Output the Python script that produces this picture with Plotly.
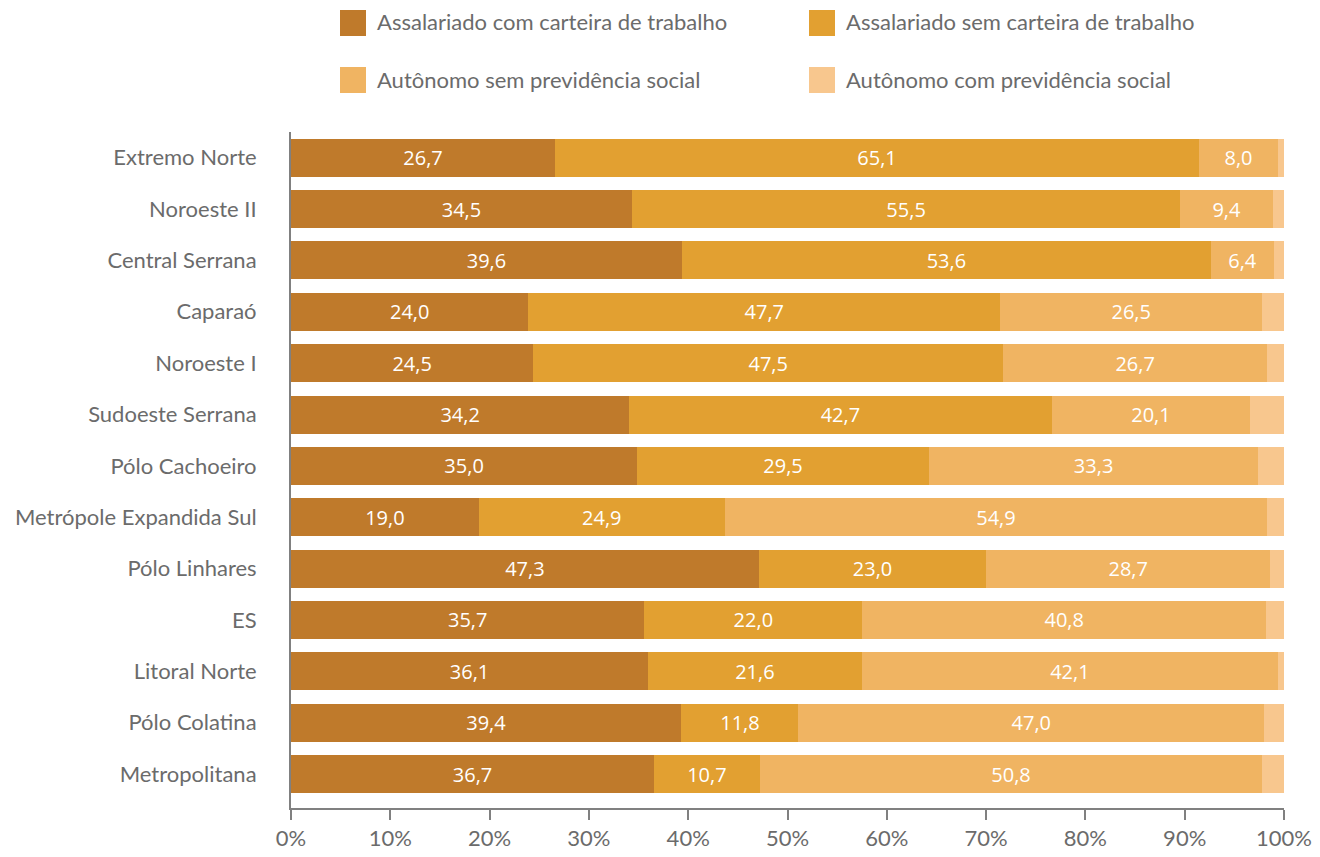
import plotly.graph_objects as go

# Regions of Espírito Santo (top to bottom)
categories = [
    "Extremo Norte", "Noroeste II", "Central Serrana", "Caparaó", "Noroeste I",
    "Sudoeste Serrana", "Pólo Cachoeiro", "Metrópole Expandida Sul",
    "Pólo Linhares", "ES", "Litoral Norte", "Pólo Colatina", "Metropolitana",
]

# Share of occupied persons by type of occupation (%)
com_carteira = [26.7, 34.5, 39.6, 24.0, 24.5, 34.2, 35.0, 19.0, 47.3, 35.7, 36.1, 39.4, 36.7]
sem_carteira = [65.1, 55.5, 53.6, 47.7, 47.5, 42.7, 29.5, 24.9, 23.0, 22.0, 21.6, 11.8, 10.7]
aut_sem_prev = [8.0, 9.4, 6.4, 26.5, 26.7, 20.1, 33.3, 54.9, 28.7, 40.8, 42.1, 47.0, 50.8]
aut_com_prev = [0.6, 1.1, 1.0, 2.2, 1.7, 3.4, 2.6, 1.7, 1.4, 1.8, 0.6, 2.0, 2.2]

series_names = [
    "Assalariado com carteira de trabalho",
    "Assalariado sem carteira de trabalho",
    "Autônomo sem previdência social",
    "Autônomo com previdência social",
]
series_values = [com_carteira, sem_carteira, aut_sem_prev, aut_com_prev]
series_labeled = [True, True, True, False]
colors = ["#BF7A2B", "#E2A031", "#F0B462", "#F8C78E"]

x_ticks = [0, 10, 20, 30, 40, 50, 60, 70, 80, 90, 100]
x_tick_labels = [f"{v}%" for v in x_ticks]

LABEL_FONT = "Lato, 'Open Sans', sans-serif"
VALUE_FONT = "'Open Sans', sans-serif"
GREY = "#6B6B6B"


def fmt(v):
    return f"{v:.1f}".replace(".", ",")


fig = go.Figure()
for name, vals, labeled, col in zip(series_names, series_values, series_labeled, colors):
    fig.add_trace(go.Bar(
        name=name,
        y=categories,
        x=vals,
        orientation="h",
        marker=dict(color=col, line=dict(width=0)),
        text=[fmt(v) for v in vals] if labeled else None,
        textposition="inside" if labeled else "none",
        insidetextanchor="middle",
        textfont=dict(family=VALUE_FONT, size=20, color="white"),
        constraintext="none",
        showlegend=False,
        hoverinfo="name+x",
    ))

# Plot area in pixels, used to place the legend boxes above it
W, H = 1320, 857
L, R, T, B = 291, 36, 132, 49
pw, ph = W - L - R, H - T - B


def px_x(px):
    return (px - L) / pw


def px_y(py):
    return (H - B - py) / ph


legend_cells = [(340, 10), (809, 10), (340, 67), (809, 67)]
shapes = []
annotations = []
for (lx, ly), name, col in zip(legend_cells, series_names, colors):
    shapes.append(dict(
        type="rect", xref="paper", yref="paper",
        x0=px_x(lx), x1=px_x(lx + 26), y0=px_y(ly + 26), y1=px_y(ly),
        fillcolor=col, line=dict(width=0),
    ))
    annotations.append(dict(
        xref="paper", yref="paper", x=px_x(lx + 35), y=px_y(ly + 12),
        xanchor="left", yanchor="middle", showarrow=False, text=name,
        font=dict(family=LABEL_FONT, size=22, color=GREY),
    ))

fig.update_layout(
    barmode="stack",
    barnorm="percent",
    bargap=0.26,
    width=W, height=H,
    margin=dict(l=L, r=R, t=T, b=B, pad=0, autoexpand=False),
    paper_bgcolor="white",
    plot_bgcolor="white",
    shapes=shapes,
    annotations=annotations,
    xaxis=dict(
        range=[0, 100],
        tickvals=x_ticks,
        ticktext=x_tick_labels,
        showgrid=False,
        zeroline=False,
        showline=True,
        linecolor="#808080",
        linewidth=2,
        ticks="outside",
        ticklen=10,
        tickwidth=2,
        tickcolor="#808080",
        automargin=False,
        tickfont=dict(family=LABEL_FONT, size=22, color=GREY),
    ),
    yaxis=dict(
        type="category",
        categoryorder="array",
        categoryarray=categories,
        range=[12.66, -0.5],
        showgrid=False,
        zeroline=False,
        showline=True,
        linecolor="#808080",
        linewidth=2,
        ticks="",
        ticklabelstandoff=28,
        automargin=False,
        tickfont=dict(family=LABEL_FONT, size=22, color=GREY),
    ),
    uniformtext=dict(mode=False),
)

fig.write_html("out.html")
